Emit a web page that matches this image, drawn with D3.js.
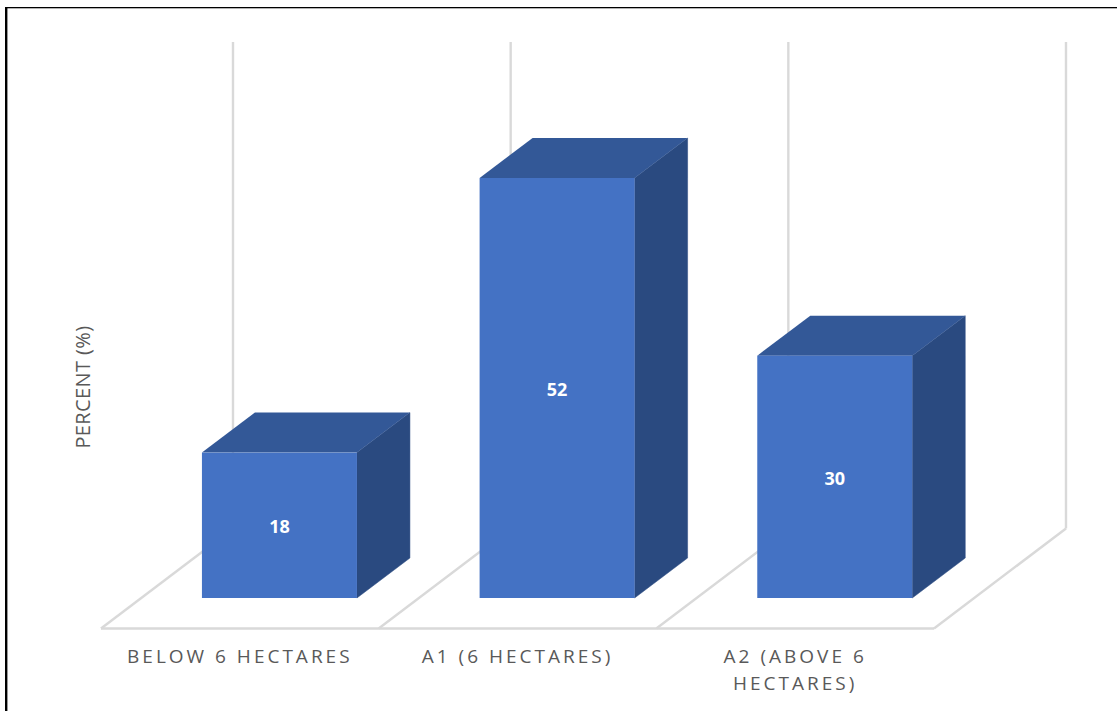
<!DOCTYPE html>
<html>
<head>
<meta charset="utf-8">
<script src="https://cdn.jsdelivr.net/npm/d3@7"></script>
<style>
html, body { margin: 0; padding: 0; background: #fff; overflow: hidden; }
svg { display: block; }
text { font-family: "Open Sans", "Noto Sans", sans-serif; }
</style>
</head>
<body>
<svg id="chart" width="1117" height="711"></svg>
<script>
// Share of holdings by size class
const categories = ["BELOW 6 HECTARES", "A1 (6 HECTARES)", "A2 (ABOVE 6 HECTARES)"];
const categoryLines = [["BELOW 6 HECTARES"], ["A1 (6 HECTARES)"], ["A2 (ABOVE 6", "HECTARES)"]];
const percentValues = [18, 52, 30];
const axisTitle = "PERCENT (%)";

const svg = d3.select("#chart");

// Oblique projection used for the 3D column look
const depth = { dx: 53, dy: -40 };
const floor = { dx: 132, dy: -100, frontY: 628.5 };
const barWidth = 155;
const barShift = 39.6;
const wallTopY = 42;

const x = d3.scaleBand().domain(categories).range([101, 934]);
const y = d3.scaleLinear().domain([0, 52]).range([598, 178]);

const gridColor = "#d9d9d9";
const edges = [...categories.map(c => x(c)), x.range()[1]];

// Page frame: only the top and left rules are drawn
svg.append("rect").attr("x", 5).attr("y", 7).attr("width", 2.4).attr("height", 704).attr("fill", "#000");
svg.append("rect").attr("x", 5).attr("y", 7).attr("width", 1112).attr("height", 1.3).attr("fill", "#000");

// Floor and back wall
const grid = svg.append("g").attr("fill", "none").attr("stroke", gridColor).attr("stroke-width", 2.4);
edges.forEach(e => {
  grid.append("line")
    .attr("x1", e + floor.dx).attr("x2", e + floor.dx)
    .attr("y1", wallTopY).attr("y2", floor.frontY + floor.dy);
  grid.append("line")
    .attr("x1", e).attr("x2", e + floor.dx)
    .attr("y1", floor.frontY).attr("y2", floor.frontY + floor.dy);
});
grid.append("line")
  .attr("x1", x.range()[0]).attr("x2", x.range()[1])
  .attr("y1", floor.frontY).attr("y2", floor.frontY);

// Columns: side, top, then front face
const pts = a => a.map(p => p.join(",")).join(" ");
const bars = svg.append("g").selectAll("g")
  .data(categories.map((c, i) => ({ c, v: percentValues[i] })))
  .join("g");

const left = d => x(d.c) + x.bandwidth() / 2 + barShift - barWidth / 2;

bars.append("polygon")
  .attr("fill", "#2a4a80")
  .attr("stroke", "#2a4a80")
  .attr("stroke-width", 0.5)
  .attr("points", d => {
    const r = left(d) + barWidth, t = y(d.v), b = y(0);
    return pts([[r, t], [r + depth.dx, t + depth.dy], [r + depth.dx, b + depth.dy], [r, b]]);
  });

bars.append("polygon")
  .attr("fill", "#335897")
  .attr("points", d => {
    const l = left(d), r = l + barWidth, t = y(d.v);
    return pts([[l, t], [l + depth.dx, t + depth.dy], [r + depth.dx, t + depth.dy], [r, t]]);
  });

bars.append("rect")
  .attr("fill", "#4472c4")
  .attr("x", left)
  .attr("y", d => y(d.v))
  .attr("width", barWidth)
  .attr("height", d => y(0) - y(d.v));

// Value labels centred on each front face
bars.append("text")
  .attr("x", d => left(d) + barWidth / 2)
  .attr("y", d => (y(d.v) + y(0)) / 2 + 1.5)
  .attr("dy", "0.35em")
  .attr("text-anchor", "middle")
  .attr("fill", "#fff")
  .attr("font-size", 18)
  .attr("font-weight", 700)
  .text(d => d.v);

// Category labels under the floor
svg.append("g").selectAll("text")
  .data(categories.map((c, i) => ({ c, lines: categoryLines[i] })))
  .join("text")
  .attr("text-anchor", "middle")
  .attr("fill", "#595959")
  .attr("font-size", 19)
  .attr("letter-spacing", 3)
  .each(function (d) {
    d3.select(this).selectAll("tspan")
      .data(d.lines)
      .join("tspan")
      .attr("x", x(d.c) + x.bandwidth() / 2)
      .attr("y", (_, i) => 663 + i * 27)
      .text(t => t);
  });

// Value axis title
svg.append("text")
  .attr("transform", "translate(89.5,387) rotate(-90)")
  .attr("text-anchor", "middle")
  .attr("fill", "#595959")
  .attr("font-size", 20)
  .attr("letter-spacing", 0.4)
  .text(axisTitle);
</script>
</body>
</html>
